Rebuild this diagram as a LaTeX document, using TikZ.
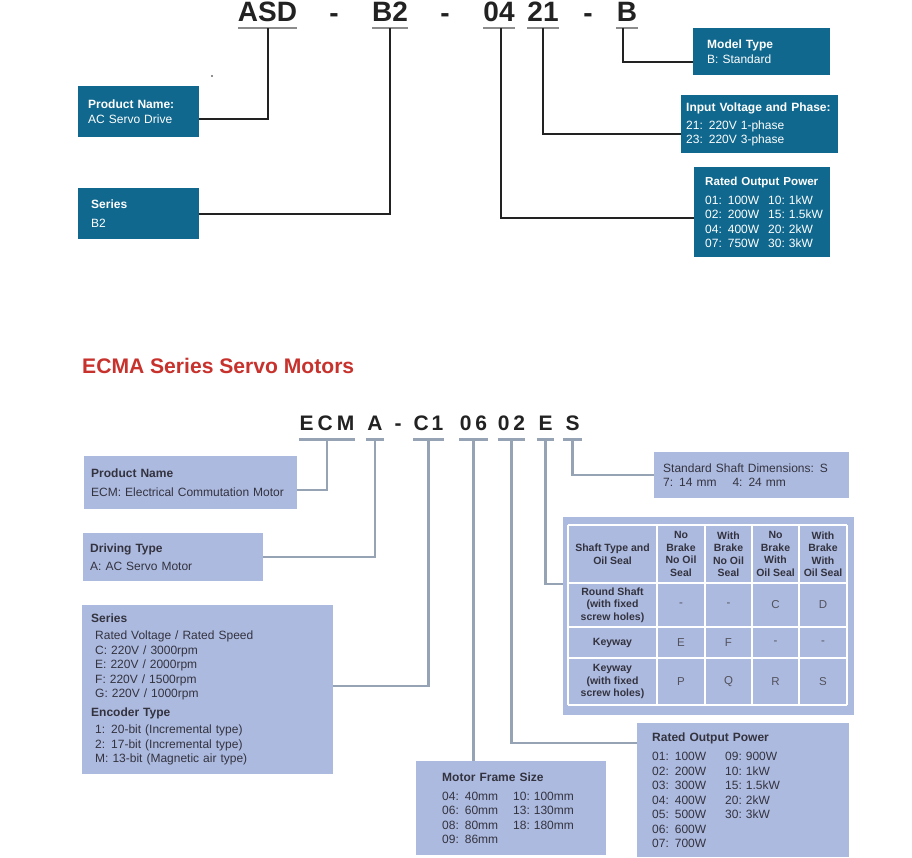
\documentclass[tikz,border=0pt]{standalone}
\usepackage{fontspec}
\setmainfont{Liberation Sans}
\usetikzlibrary{calc,positioning}
\definecolor{cTop}{HTML}{10688E}
\definecolor{cBox}{HTML}{ADBADF}
\definecolor{cLine}{HTML}{96A3B4}
\definecolor{cInk}{HTML}{222222}
\definecolor{cTxt}{HTML}{33333F}
\definecolor{cRed}{HTML}{C8322D}
\definecolor{cUnder}{HTML}{8C8C8C}
\newcommand\twocol[2]{\makebox[#1][l]{#2}}
\tikzset{
  code/.style={anchor=south,inner xsep=0pt,inner ysep=6pt,
               font=\fontsize{28}{28}\selectfont\bfseries,text=cInk},
  tdash/.style={anchor=base,inner sep=0pt,
               font=\fontsize{28}{28}\selectfont\bfseries,text=cInk},
  bcode/.style={anchor=south,inner xsep=0pt,inner ysep=8.5pt,
               font=\fontsize{21}{21}\selectfont\bfseries,text=cInk},
  bdash/.style={anchor=base,inner sep=0pt,
               font=\fontsize{21}{21}\selectfont\bfseries,text=cInk},
  tbox/.style={anchor=north west,fill=cTop,text=white,align=left,
               inner ysep=0pt,font=\fontsize{12}{14.5}\selectfont},
  bbox/.style={anchor=north west,fill=cBox,text=cTxt,align=left,
               inner ysep=0pt,font=\fontsize{12}{14.5}\selectfont},
  tline/.style={draw=cInk,line width=2pt},
  bline/.style={draw=cLine,line width=2.5pt},
  uline/.style={draw=cUnder,line width=2pt},
  buline/.style={draw=cLine,line width=3pt},
  tabrule/.style={draw=white,line width=1.5pt},
  thead/.style={align=center,inner sep=0pt,text=cTxt,
               font=\fontsize{10.5}{12.5}\selectfont\bfseries},
  tval/.style={inner sep=0pt,text=cTxt!85,font=\fontsize{11.5}{12.5}\selectfont},
}
\begin{document}
\begin{tikzpicture}[x=1pt,y=-1pt]
  \path[fill=white,use as bounding box] (0,0) rectangle (912,857);

  % ASD-B2-0421-B
  \node[code,minimum width=59pt] (asd) at (267.5,28) {ASD};
  \node[tdash] (d1) at (334,22) {-};
  \node[code,minimum width=36pt] (ser) at (390,28) {B2};
  \node[tdash] (d2) at (445,22) {-};
  \node[code,minimum width=32pt] (pow) at (499,28) {04};
  \node[code,minimum width=32pt] (volt) at (543,28) {21};
  \node[tdash] (d3) at (588,22) {-};
  \node[code,minimum width=21pt] (mod) at (627,28) {B};
  \foreach \n in {asd,ser,pow,volt,mod}
    \draw[uline] (\n.south west) -- (\n.south east);
  \fill[cInk] (212,76) circle (0.9);

  \node[tbox,minimum height=51pt,text width=101pt,inner xsep=10pt] (tName) at (78,86)
    {\textbf{Product Name:}\\AC Servo Drive};
  \node[tbox,minimum height=51pt,text width=95pt,inner xsep=13pt] (tSeries) at (78,188)
    {\textbf{Series}\\[4.5pt]B2};
  \node[tbox,minimum height=47pt,text width=109pt,inner xsep=14pt] (tModel) at (693,28)
    {\textbf{Model Type}\\B: Standard};
  \node[tbox,minimum height=58pt,text width=147pt,inner xsep=5pt] (tVolt) at (681,95)
    {\textbf{Input Voltage and Phase:}\\[3.5pt]21: 220V 1-phase\\23: 220V 3-phase};
  \node[tbox,minimum height=90pt,text width=114pt,inner xsep=11pt] (tPower) at (694,167)
    {{\fontsize{11.6}{14.5}\selectfont\bfseries Rated~Output~Power}\\[4.5pt]
     \twocol{63pt}{01: 100W}10:~1kW\\
     \twocol{63pt}{02: 200W}15:~1.5kW\\
     \twocol{63pt}{04: 400W}20:~2kW\\
     \twocol{63pt}{07: 750W}30:~3kW};

  \draw[tline] (asd.south) |- ($(tName.east)+(0,7.5)$);
  \draw[tline] (ser.south) |- (tSeries.east);
  \draw[tline] ([xshift=-4pt]mod.south) |- ($(tModel.west)+(0,10.5)$);
  \draw[tline] (volt.south) |- ($(tVolt.west)+(0,10)$);
  \draw[tline] ([xshift=1.5pt]pow.south) |- ($(tPower.west)+(0,6)$);

  % ECMA series
  \node[anchor=base west,inner sep=0pt,text=cRed,
        font=\fontsize{21.1}{21.1}\selectfont\bfseries] (title) at (82,373)
    {ECMA Series Servo Motors};

  \node[bcode,minimum width=56pt] (ecm) at (327,439) {E\kern4pt C\kern4pt M};
  \node[bcode,minimum width=18pt] (drv) at (375,439) {A};
  \node[bdash] (bd1) at (398,430.5) {-};
  \node[bcode,minimum width=29pt] (srs) at (428.5,439) {C\kern3pt 1};
  \node[bcode,minimum width=28pt] (frm) at (473.5,439) {0\kern4pt 6};
  \node[bcode,minimum width=27pt] (rop) at (511.5,439) {0\kern4pt 2};
  \node[bcode,minimum width=17pt] (shf) at (545.5,439) {E};
  \node[bcode,minimum width=19pt] (std) at (572.5,439) {S};
  \foreach \n in {ecm,drv,srs,frm,rop,shf,std}
    \draw[buline] (\n.south west) -- (\n.south east);

  \node[bbox,minimum height=53pt,text width=199pt,inner xsep=7pt] (bName) at (84,456)
    {\textbf{Product Name}\\[4.5pt]ECM: Electrical Commutation Motor};
  \node[bbox,minimum height=48pt,text width=166pt,inner xsep=7pt] (bDrive) at (83,533)
    {\textbf{Driving Type}\\[3.5pt]A: AC Servo Motor};
  \node[bbox,minimum height=169pt,text width=233pt,inner xsep=9pt] (bSeries) at (82,605)
    {\textbf{Series}\\[2.5pt]
     \hspace*{4pt}Rated Voltage / Rated Speed\\
     \hspace*{4pt}C: 220V / 3000rpm\\
     \hspace*{4pt}E: 220V / 2000rpm\\
     \hspace*{4pt}F: 220V / 1500rpm\\
     \hspace*{4pt}G: 220V / 1000rpm\\[4.5pt]
     \textbf{Encoder Type}\\[2.5pt]
     \hspace*{4pt}1: 20-bit (Incremental type)\\
     \hspace*{4pt}2: 17-bit (Incremental type)\\
     \hspace*{4pt}M: 13-bit (Magnetic air type)};
  \node[bbox,minimum height=94pt,text width=138pt,inner xsep=26pt] (bFrame) at (416,761)
    {\textbf{Motor Frame Size}\\[4.5pt]
     \twocol{71pt}{04: 40mm}10:~100mm\\
     \twocol{71pt}{06: 60mm}13:~130mm\\
     \twocol{71pt}{08: 80mm}18:~180mm\\
     09: 86mm};
  \node[bbox,minimum height=134pt,text width=182pt,inner xsep=15pt] (bPower) at (637,723)
    {\textbf{Rated Output Power}\\[4.5pt]
     \twocol{73pt}{01: 100W}09:~900W\\
     \twocol{73pt}{02: 200W}10:~1kW\\
     \twocol{73pt}{03: 300W}15:~1.5kW\\
     \twocol{73pt}{04: 400W}20:~2kW\\
     \twocol{73pt}{05: 500W}30:~3kW\\
     06: 600W\\
     07: 700W};
  \node[bbox,minimum height=46pt,text width=177pt,inner xsep=9pt] (bStd) at (654,452)
    {Standard Shaft Dimensions: S\\7: 14 mm \quad 4: 24 mm};
  \node[bbox,minimum width=291pt,minimum height=198pt,inner sep=0pt] (bShaft) at (563,517) {};

  % shaft / oil seal table
  \foreach \x in {568,657,705,752,799,847}
    \draw[tabrule] (\x,525) -- (\x,705);
  \foreach \y in {525,583,627,658,705}
    \draw[tabrule] (568,\y) -- (847,\y);
  \node[thead] (hs) at (612.5,554) {Shaft Type and\\Oil Seal};
  \foreach \t/\x [count=\i] in {{No\\Brake\\No Oil\\Seal}/681,
      {With\\Brake\\No Oil\\Seal}/728.5,{No\\Brake\\With\\Oil Seal}/775.5,
      {With\\Brake\\With\\Oil Seal}/823}
    \node[thead] (hc\i) at (\x,554) {\t};
  \foreach \t/\y [count=\j] in {{Round Shaft\\(with fixed\\screw holes)}/605,
      {Keyway}/642.5,{Keyway\\(with fixed\\screw holes)}/681.5}
    \node[thead] (hr\j) at (612.5,\y) {\t};
  \foreach \r/\y [count=\j] in {{-,-,C,D}/605,{E,F,-,-}/642.5,{P,Q,R,S}/681.5}
    \foreach \v [count=\i] in \r {
      \pgfmathsetmacro\cx{{681,728.5,775.5,823}[\i-1]}
      \node[tval] (v\j\i) at (\cx,\y) {\v};
    }

  \draw[bline] (ecm.south) |- ($(bName.east)+(0,7.5)$);
  \draw[bline] (drv.south) |- (bDrive.east);
  \draw[bline] (srs.south) |- ($(bSeries.east)+(0,-3.5)$);
  \draw[bline] (frm.south) -- (frm.south |- bFrame.north);
  \draw[bline] (rop.south) |- ($(bPower.north west)+(0,20)$);
  \draw[bline] (shf.south) |- ($(bShaft.north west)+(0,67)$);
  \draw[bline] (std.south) |- (bStd.west);
\end{tikzpicture}
\end{document}
